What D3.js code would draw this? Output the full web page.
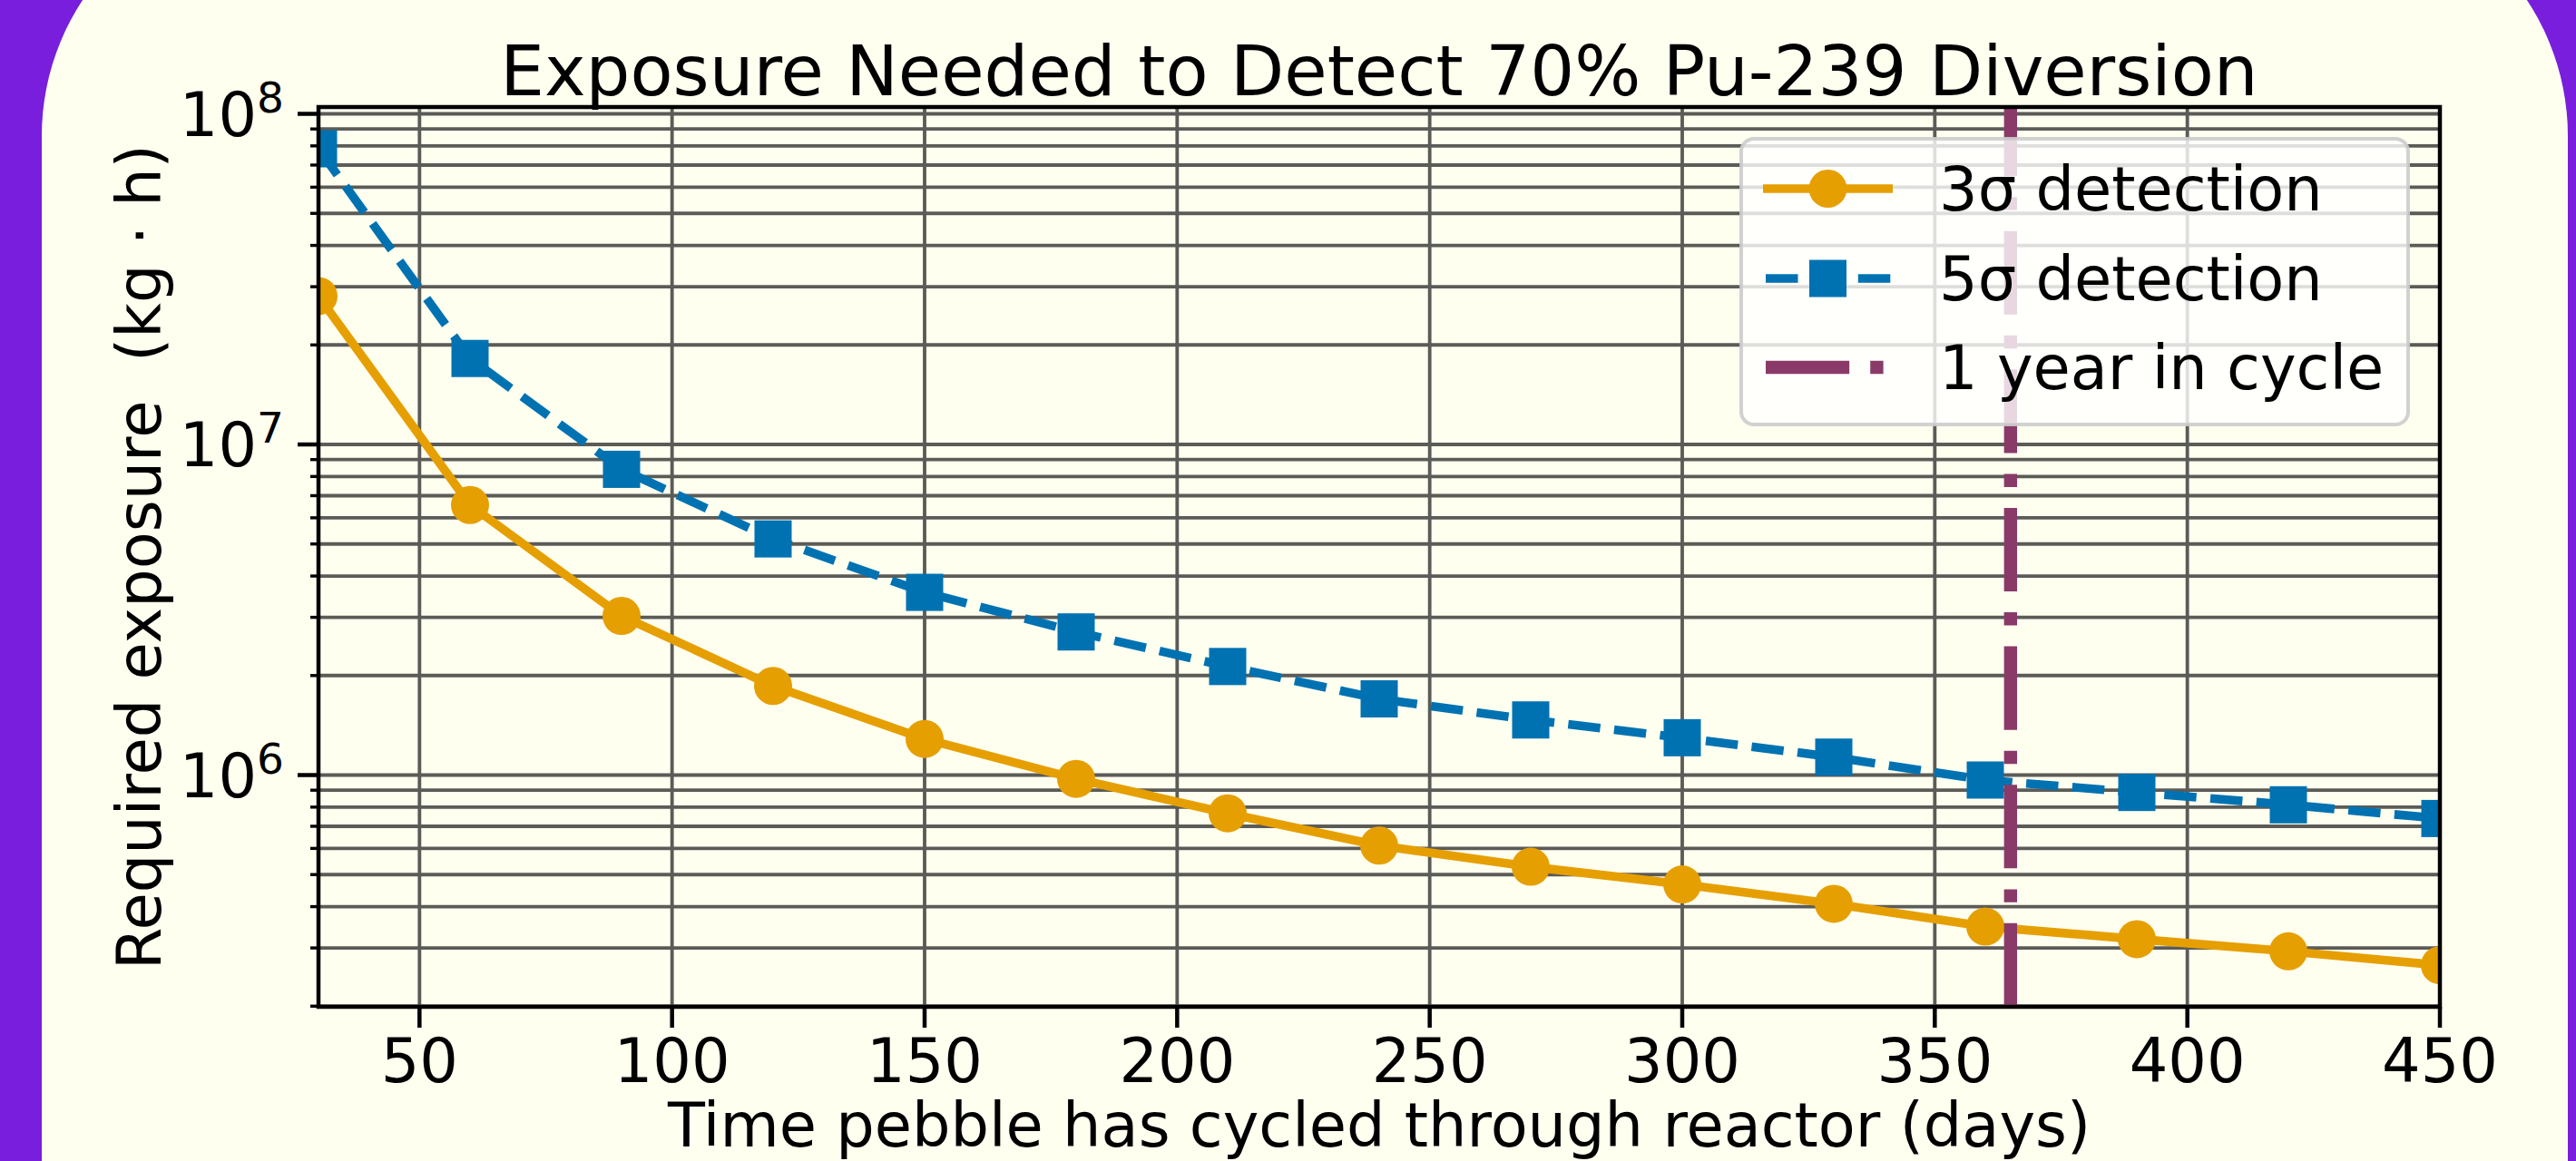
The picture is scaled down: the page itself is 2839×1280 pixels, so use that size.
<!DOCTYPE html>
<html>
<head>
<meta charset="utf-8">
<script src="https://cdn.jsdelivr.net/npm/d3@7"></script>
<style>
  html, body { margin: 0; padding: 0; background: #781edc; }
  svg { display: block; }
  text { font-family: "DejaVu Sans", sans-serif; fill: #000; }
</style>
</head>
<body>
<svg id="chart" width="2839" height="1280"></svg>
<script>
// ---- data ----
const days = [30, 60, 90, 120, 150, 180, 210, 240, 270, 300, 330, 360, 390, 420, 450];
const sigma3 = [2.81e7, 6.56e6, 3.03e6, 1.86e6, 1.286e6, 9.74e5, 7.66e5, 6.12e5, 5.28e5, 4.67e5, 4.08e5, 3.48e5, 3.19e5, 2.93e5, 2.66e5];
const sigma5 = [7.84e7, 1.82e7, 8.41e6, 5.18e6, 3.57e6, 2.71e6, 2.13e6, 1.70e6, 1.468e6, 1.297e6, 1.133e6, 9.66e5, 8.86e5, 8.13e5, 7.39e5];
const cycleDay = 365;
const xTicks = [50, 100, 150, 200, 250, 300, 350, 400, 450];
const yMajorExps = [6, 7, 8];
const legendLabels = ["3σ detection", "5σ detection", "1 year in cycle"];
const titleText = "Exposure Needed to Detect 70% Pu-239 Diversion";
const xLabelText = "Time pebble has cycled through reactor (days)";
const yLabelText = "Required exposure  (kg · h)";

// ---- layout ----
const W = 2839, H = 1280;
const plot = { left: 351, right: 2689, top: 118, bottom: 1110 };
const colors = { s3: "#E69F00", s5: "#0072B2", year: "#8a3a68", grid: "#5b5b57", bg: "#fffff0", outer: "#781edc" };
const fs = 67;

const svg = d3.select("#chart");

// background: purple page with ivory rounded card
svg.append("rect").attr("x", 0).attr("y", 0).attr("width", W).attr("height", H).attr("fill", colors.outer);
svg.append("rect").attr("x", 46).attr("y", -122).attr("width", 2830 - 46).attr("height", H + 600)
  .attr("rx", 272).attr("ry", 272).attr("fill", colors.bg);

const x = d3.scaleLinear().domain([30, 450]).range([plot.left, plot.right]);
const y = d3.scaleLog().domain([1.991e5, 1.0486e8]).range([plot.bottom, plot.top]);

// clip
svg.append("defs").append("clipPath").attr("id", "clip")
  .append("rect").attr("x", plot.left).attr("y", plot.top)
  .attr("width", plot.right - plot.left).attr("height", plot.bottom - plot.top);

// gridlines: y major + minor
const yGridVals = [];
for (let e = 5; e <= 8; e++) {
  for (let m = 1; m <= 9; m++) {
    const v = m * Math.pow(10, e);
    if (v >= y.domain()[0] && v <= y.domain()[1]) yGridVals.push(v);
  }
}
const gGrid = svg.append("g").attr("clip-path", "url(#clip)");
gGrid.selectAll("line.hy").data(yGridVals).enter().append("line")
  .attr("x1", plot.left).attr("x2", plot.right)
  .attr("y1", d => y(d)).attr("y2", d => y(d))
  .attr("stroke", colors.grid).attr("stroke-width", 3.84);
gGrid.selectAll("line.vx").data(xTicks).enter().append("line")
  .attr("x1", d => x(d)).attr("x2", d => x(d))
  .attr("y1", plot.top).attr("y2", plot.bottom)
  .attr("stroke", colors.grid).attr("stroke-width", 3.84);

// data layer
const gData = svg.append("g").attr("clip-path", "url(#clip)");
const line = d3.line().x(d => x(d[0])).y(d => y(d[1]));
const d3s = days.map((d, i) => [d, sigma3[i]]);
const d5s = days.map((d, i) => [d, sigma5[i]]);

gData.append("path").datum(d3s).attr("d", line)
  .attr("fill", "none").attr("stroke", colors.s3).attr("stroke-width", 9.6)
  .attr("stroke-linejoin", "round");
gData.selectAll("circle.s3").data(d3s).enter().append("circle")
  .attr("cx", d => x(d[0])).attr("cy", d => y(d[1])).attr("r", 21)
  .attr("fill", colors.s3);

gData.append("path").datum(d5s).attr("d", line)
  .attr("fill", "none").attr("stroke", colors.s5).attr("stroke-width", 9.6)
  .attr("stroke-dasharray", "35.5 15.4").attr("stroke-linejoin", "round");
const sq = 41;
gData.selectAll("rect.s5").data(d5s).enter().append("rect")
  .attr("x", d => x(d[0]) - sq / 2).attr("y", d => y(d[1]) - sq / 2)
  .attr("width", sq).attr("height", sq).attr("fill", colors.s5);

// vertical 1-year line (drawn bottom to top)
gData.append("line")
  .attr("x1", x(cycleDay)).attr("x2", x(cycleDay))
  .attr("y1", plot.bottom).attr("y2", plot.top)
  .attr("stroke", colors.year).attr("stroke-width", 14.4)
  .attr("stroke-dasharray", "92.16 23.04 14.4 23.04");

// axes ticks
const gAxes = svg.append("g");
gAxes.selectAll("line.xt").data(xTicks).enter().append("line")
  .attr("x1", d => x(d)).attr("x2", d => x(d))
  .attr("y1", plot.bottom).attr("y2", plot.bottom + 23)
  .attr("stroke", "#000").attr("stroke-width", 4.5);
gAxes.selectAll("text.xt").data(xTicks).enter().append("text")
  .attr("x", d => x(d)).attr("y", plot.bottom + 83)
  .attr("text-anchor", "middle").attr("font-size", fs)
  .text(d => d3.format("d")(d));

gAxes.selectAll("line.ymj").data(yMajorExps).enter().append("line")
  .attr("x1", plot.left - 23).attr("x2", plot.left)
  .attr("y1", e => y(Math.pow(10, e))).attr("y2", e => y(Math.pow(10, e)))
  .attr("stroke", "#000").attr("stroke-width", 4.5);
const yMinor = yGridVals.filter(v => !yMajorExps.some(e => Math.abs(v - Math.pow(10, e)) < 1));
gAxes.selectAll("line.ymn").data(yMinor).enter().append("line")
  .attr("x1", plot.left - 9).attr("x2", plot.left)
  .attr("y1", d => y(d)).attr("y2", d => y(d))
  .attr("stroke", "#000").attr("stroke-width", 3.4);
const yl = gAxes.selectAll("text.yl").data(yMajorExps).enter().append("text")
  .attr("x", plot.left - 38).attr("y", e => y(Math.pow(10, e)) + 24)
  .attr("text-anchor", "end").attr("font-size", fs);
yl.append("tspan").text("10");
yl.append("tspan").attr("dy", -26).attr("font-size", 47).text(e => e);

// spines
svg.append("rect").attr("x", plot.left).attr("y", plot.top)
  .attr("width", plot.right - plot.left).attr("height", plot.bottom - plot.top)
  .attr("fill", "none").attr("stroke", "#000").attr("stroke-width", 4.5);

// title and labels
svg.append("text").attr("x", (plot.left + plot.right) / 2).attr("y", 105)
  .attr("text-anchor", "middle").attr("font-size", 77).text(titleText);
svg.append("text").attr("x", (plot.left + plot.right) / 2).attr("y", 1264)
  .attr("text-anchor", "middle").attr("font-size", fs).text(xLabelText);
svg.append("text")
  .attr("transform", `translate(177, ${(plot.top + plot.bottom) / 2}) rotate(-90)`)
  .attr("text-anchor", "middle").attr("font-size", fs)
  .attr("xml:space", "preserve").style("white-space", "pre").text(yLabelText);

// legend
const lg = svg.append("g");
const lgBox = { x: 1919, y: 153, w: 735, h: 315 };
lg.append("rect").attr("x", lgBox.x).attr("y", lgBox.y).attr("width", lgBox.w).attr("height", lgBox.h)
  .attr("rx", 14).attr("ry", 14)
  .attr("fill", "#ffffff").attr("fill-opacity", 0.8)
  .attr("stroke", "#cccccc").attr("stroke-opacity", 0.9).attr("stroke-width", 4);
const rowY = [208, 307, 405];
const lx1 = 1943, lx2 = 2086, lmid = (lx1 + lx2) / 2;
lg.append("line").attr("x1", lx1).attr("x2", lx2).attr("y1", rowY[0]).attr("y2", rowY[0])
  .attr("stroke", colors.s3).attr("stroke-width", 9.6);
lg.append("circle").attr("cx", lmid).attr("cy", rowY[0]).attr("r", 21).attr("fill", colors.s3);
lg.append("line").attr("x1", lx1 + 3).attr("x2", lx2).attr("y1", rowY[1]).attr("y2", rowY[1])
  .attr("stroke", colors.s5).attr("stroke-width", 9.6).attr("stroke-dasharray", "35.5 15.4");
lg.append("rect").attr("x", lmid - sq / 2).attr("y", rowY[1] - sq / 2).attr("width", sq).attr("height", sq)
  .attr("fill", colors.s5);
lg.append("line").attr("x1", lx1 + 3).attr("x2", lx2).attr("y1", rowY[2]).attr("y2", rowY[2])
  .attr("stroke", colors.year).attr("stroke-width", 14.4).attr("stroke-dasharray", "92.16 23.04 14.4 23.04");
lg.selectAll("text.lg").data(legendLabels).enter().append("text")
  .attr("x", 2137).attr("y", (d, i) => rowY[i] + 24)
  .attr("font-size", fs).text(d => d);
</script>
</body>
</html>
